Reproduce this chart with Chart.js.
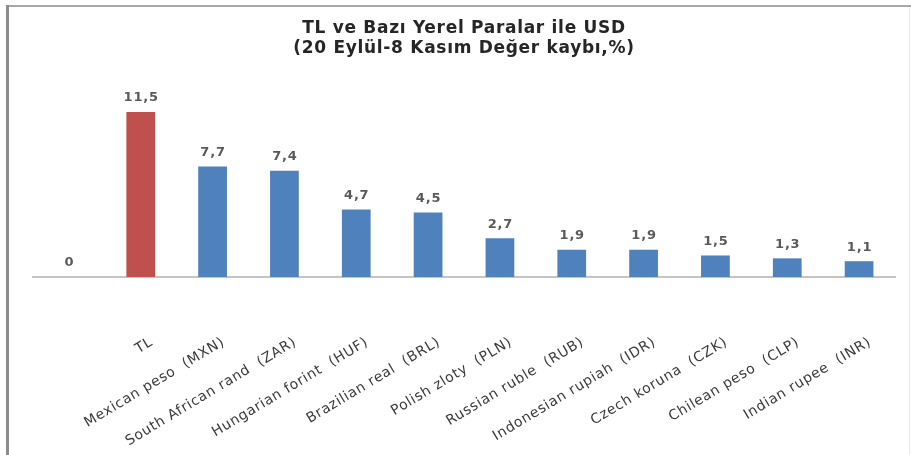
<!DOCTYPE html>
<html>
<head>
<meta charset="utf-8">
<script src="https://cdn.jsdelivr.net/npm/chart.js@4.4.0/dist/chart.umd.min.js"></script>
<style>
  html, body { margin: 0; padding: 0; background: #ffffff; }
  #wrap { position: relative; width: 911px; height: 455px; }
</style>
</head>
<body>
<div id="wrap"><canvas id="c" width="911" height="455"></canvas></div>
<script>
const titleLines = ['TL ve Bazı Yerel Paralar ile USD', '(20 Eylül-8 Kasım Değer kaybı,%)'];
const categories = ['', 'TL', 'Mexican peso  (MXN)', 'South African rand  (ZAR)', 'Hungarian forint  (HUF)',
  'Brazilian real  (BRL)', 'Polish zloty  (PLN)', 'Russian ruble  (RUB)', 'Indonesian rupiah  (IDR)',
  'Czech koruna  (CZK)', 'Chilean peso  (CLP)', 'Indian rupee  (INR)'];
const values = [0, 11.5, 7.7, 7.4, 4.7, 4.5, 2.7, 1.9, 1.9, 1.5, 1.3, 1.1];
const highlightIndex = 1;
const yMin = 0, yMax = 14;

const barColors = values.map((v, i) => i === highlightIndex ? '#C0504D' : '#4F81BD');

const framePlugin = {
  id: 'frame',
  beforeDraw(chart) {
    const ctx = chart.ctx;
    ctx.save();
    ctx.fillStyle = '#ffffff';
    ctx.fillRect(0, 0, chart.width, chart.height);
    ctx.fillStyle = '#a8a8a8';
    ctx.fillRect(6, 5, chart.width - 6, 2);
    ctx.fillStyle = '#8c8c8c';
    ctx.fillRect(6, 5, 3, chart.height - 5);
    ctx.fillStyle = '#e6e6e6';
    ctx.fillRect(chart.width - 2, 7, 1, chart.height - 7);
    ctx.restore();
    // the reference text is set wide; widen title and tick text slightly
    ctx.letterSpacing = '0.7px';
  }
};

const valueLabelPlugin = {
  id: 'valueLabels',
  afterDatasetsDraw(chart) {
    const ctx = chart.ctx;
    const meta = chart.getDatasetMeta(0);
    ctx.save();
    ctx.letterSpacing = '0.8px';
    ctx.font = 'bold 13px "DejaVu Sans"';
    ctx.fillStyle = '#5a5a5a';
    ctx.textAlign = 'center';
    ctx.textBaseline = 'middle';
    meta.data.forEach((bar, i) => {
      const txt = values[i].toLocaleString('tr-TR', { maximumFractionDigits: 1 });
      ctx.fillText(txt, bar.x + 0.5, bar.y - 14);
    });
    ctx.restore();
  }
};

new Chart(document.getElementById('c'), {
  type: 'bar',
  data: {
    labels: categories,
    datasets: [{
      data: values,
      backgroundColor: barColors,
      borderWidth: 0,
      barPercentage: 0.4,
      categoryPercentage: 1.0
    }]
  },
  options: {
    responsive: false,
    animation: false,
    devicePixelRatio: 1,
    layout: { autoPadding: false, padding: { left: 33, right: 16, top: 0, bottom: 0 } },
    plugins: {
      legend: { display: false },
      tooltip: { enabled: false },
      title: {
        display: true,
        text: titleLines,
        color: '#262626',
        font: { family: '"DejaVu Sans"', size: 17, weight: 'bold', lineHeight: 1.15 },
        padding: { top: 19, bottom: 18 }
      }
    },
    scales: {
      y: { display: false, min: yMin, max: yMax },
      x: {
        offset: true,
        grid: { display: false, drawTicks: false },
        border: { display: true, color: '#c4c4c4', width: 2 },
        ticks: {
          autoSkip: false,
          minRotation: 31,
          maxRotation: 31,
          padding: 57,
          labelOffset: 11,
          color: '#3a3a3a',
          font: { family: '"DejaVu Sans"', size: 14 }
        },
        afterFit(scale) {
          scale.height = 178;
          scale.paddingLeft = 0;
          scale.paddingRight = 0;
        }
      }
    }
  },
  plugins: [framePlugin, valueLabelPlugin]
});
</script>
</body>
</html>
